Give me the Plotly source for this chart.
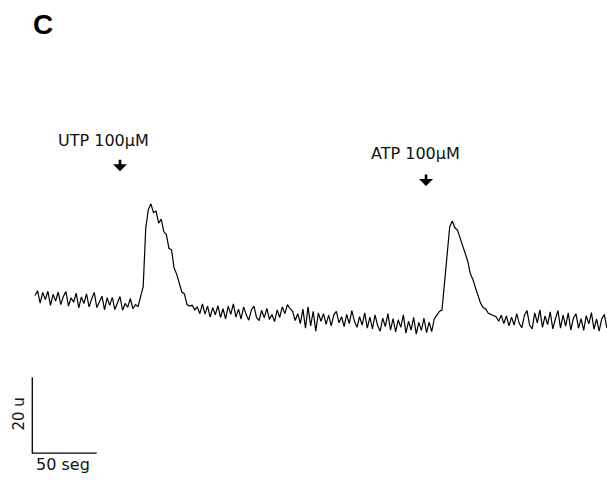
import numpy as np
import plotly.graph_objects as go

# Time axis (s), sampled every 2 s
time_s = np.arange(0, 446, 2)

# Fluorescence signal (u)
signal_u = [
    1.2, 2.4, -0.8, 2.0, 0.1, 2.3, -1.4, 1.5, -0.3, 2.1,
    -1.2, 0.9, 2.2, -1.6, 0.6, -0.6, 1.8, -2.1, 0.8, -0.9,
    1.6, -1.8, 0.3, 2.0, -2.0, -0.5, 1.0, -2.6, 0.6, -1.4,
    0.7, -2.5, -0.6, 0.9, -2.7, -0.9, -1.9, 0.4, -2.3, -1.2,
    -1.7, 0.6, 3.5, 19.0, 23.8, 25.3, 23.0, 23.4, 20.2, 21.3,
    18.0, 17.2, 13.6, 13.2, 8.4, 6.8, 4.4, 2.1, 1.6, -1.2,
    -1.6, -1.4, -2.6, -1.8, -3.6, -1.0, -3.7, -1.6, -4.5, -2.0,
    -3.9, -1.5, -4.6, -2.3, -5.0, -1.6, -3.8, -1.0, -4.5, -2.4,
    -5.0, -1.8, -3.9, -5.3, -2.6, -1.6, -4.6, -5.4, -2.7, -4.7,
    -2.2, -5.1, -3.8, -5.7, -2.6, -4.6, -1.8, -3.6, -1.2, -2.3,
    -3.0, -5.4, -3.6, -6.2, -2.4, -7.4, -1.8, -6.8, -3.0, -8.2,
    -3.4, -5.6, -3.6, -6.4, -4.0, -6.8, -3.9, -3.0, -6.0, -4.4,
    -7.0, -3.8, -6.2, -2.8, -5.6, -7.2, -4.4, -6.6, -3.4, -7.4,
    -4.5, -7.6, -3.9, -6.7, -8.2, -4.8, -7.0, -3.6, -7.9, -4.9,
    -8.4, -5.2, -7.2, -3.9, -8.7, -5.6, -7.9, -4.6, -9.0, -5.9,
    -8.0, -4.8, -8.6, -5.8, -8.3, -5.0, -4.0, -3.0, -2.6, 4.5,
    13.5, 19.3, 20.8, 19.0, 18.4, 16.2, 14.4, 12.0, 10.2, 6.9,
    5.4, 3.2, 1.3, -0.9, -2.0, -2.4, -3.5, -3.8, -4.2, -4.4,
    -5.6, -4.0, -6.2, -4.2, -6.8, -4.5, -6.6, -3.6, -6.2, -7.3,
    -4.0, -2.8, -6.6, -7.6, -3.4, -6.0, -2.6, -7.2, -4.2, -6.5,
    -3.1, -7.6, -5.0, -2.8, -7.4, -4.0, -6.9, -3.4, -7.9, -4.8,
    -3.6, -7.4, -4.9, -8.0, -4.1, -6.3, -3.3, -7.7, -5.0, -8.2,
    -5.0, -3.8, -7.4,
]

# Stimulus labels and application times (s)
stim_labels = ["UTP 100µM", "ATP 100µM"]
stim_times = [66.0, 303.6]

# Scale bar sizes
scale_time_s = 50
scale_amp_u = 20
scale_labels = ["50 seg", "20 u"]
panel_label = "C"

fig = go.Figure()
fig.add_trace(go.Scatter(
    x=time_s, y=signal_u, mode="lines",
    line=dict(color="#000000", width=1.2), hoverinfo="skip", showlegend=False,
))

# scale bar
sb_t0, sb_u0 = -2.1, -40.3
fig.add_trace(go.Scatter(
    x=[sb_t0, sb_t0, sb_t0 + scale_time_s],
    y=[sb_u0 + scale_amp_u, sb_u0, sb_u0],
    mode="lines", line=dict(color="#000000", width=1.3),
    hoverinfo="skip", showlegend=False,
))

lab_font = dict(family="DejaVu Sans", size=16, color="#111111")
ann = []
ann.append(dict(x=6.4, y=72.4, text="<b>" + panel_label + "</b>", showarrow=False,
                font=dict(family="Liberation Sans, Arial", size=28, color="#000000")))
label_pos = [(53.2, 42.0), (295.4, 38.55)]
arrow_tip = [33.9, 30.0]
for lab, (lx, ly), st, tip in zip(stim_labels, label_pos, stim_times, arrow_tip):
    ann.append(dict(x=lx, y=ly, text=lab, showarrow=False, font=lab_font))
    ann.append(dict(x=st, y=tip, text="", showarrow=True, ax=0, ay=-13,
                    arrowhead=1, arrowsize=0.9, arrowwidth=2.6, arrowcolor="#000000"))
ann.append(dict(x=22.1, y=-43.2, text=scale_labels[0], showarrow=False, font=lab_font))
ann.append(dict(x=-12.8, y=-30.0, text=scale_labels[1], showarrow=False, textangle=-90,
                font=dict(family="DejaVu Sans", size=15, color="#111111")))

fig.update_layout(
    width=607, height=480,
    margin=dict(l=0, r=0, t=0, b=0),
    paper_bgcolor="white", plot_bgcolor="white",
    xaxis=dict(range=[-27.17, 444.1], visible=False, fixedrange=True),
    yaxis=dict(range=[-47.37, 78.95], visible=False, fixedrange=True),
    annotations=ann,
)
fig.write_html("out.html")
